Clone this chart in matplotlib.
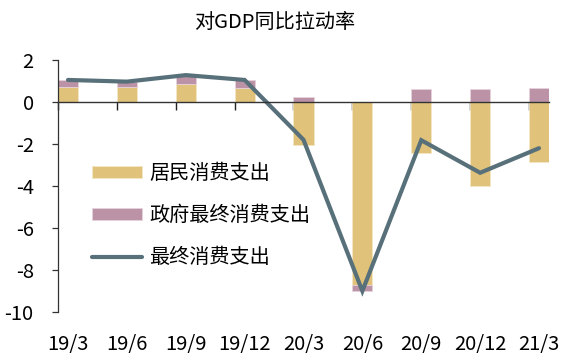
import matplotlib
matplotlib.use("Agg")
import matplotlib.pyplot as plt
import numpy as np

plt.rcParams['font.family'] = ['Noto Sans CJK SC', 'DejaVu Sans']
plt.rcParams['axes.unicode_minus'] = False

categories = ["19/3", "19/6", "19/9", "19/12", "20/3", "20/6", "20/9", "20/12", "21/3"]
household = [0.73, 0.73, 0.86, 0.65, -2.06, -8.70, -2.44, -4.00, -2.84]
government = [0.32, 0.24, 0.44, 0.40, 0.25, -0.30, 0.62, 0.62, 0.65]
total = [1.05, 0.97, 1.28, 1.05, -1.80, -9.00, -1.82, -3.37, -2.20]

title = "对GDP同比拉动率"
labels = ["居民消费支出", "政府最终消费支出", "最终消费支出"]

c_house = "#E0C27A"
c_gov = "#BC93A6"
c_line = "#587079"

fig = plt.figure(figsize=(5.66, 3.6), dpi=100)
ax = fig.add_axes([58/566, 48/360, 491/566, 252/360])

x = np.arange(len(categories))
w = 0.34
household = np.array(household)
government = np.array(government)
gov_bottom = np.where((government >= 0) == (household >= 0), household, 0)
b1 = ax.bar(x, household, width=w, color=c_house, edgecolor='#F3E6C6', linewidth=0.6,
            label=labels[0], zorder=2)
b2 = ax.bar(x, government, width=w, bottom=gov_bottom, color=c_gov, edgecolor='#E6D2DB',
            linewidth=0.6, label=labels[1], zorder=2)
ln, = ax.plot(x, total, color=c_line, lw=3.0, solid_capstyle='round',
              solid_joinstyle='miter', label=labels[2], zorder=3)

ax.set_xlim(-w/2, len(categories) - 1 + w/2)
ax.set_ylim(-10, 2)
ax.set_yticks(np.arange(-10, 3, 2))
ax.set_yticklabels([str(v) for v in range(-10, 3, 2)])

for s in ['top', 'right']:
    ax.spines[s].set_visible(False)
ax.spines['left'].set_color('#333333')
ax.spines['left'].set_linewidth(0.9)
ax.spines['bottom'].set_position(('data', 0))
ax.spines['bottom'].set_color('#333333')
ax.spines['bottom'].set_linewidth(1.0)
ax.spines['bottom'].set_zorder(4)

ax.tick_params(axis='y', direction='out', length=4.5, width=0.9, color='#333333',
               labelsize=14.5, pad=13)
ax.set_xticks(x - w/2)
ax.set_xticklabels([])
ax.tick_params(axis='x', direction='out', length=5.5, width=1.0, color='#222222')

sec = ax.secondary_xaxis(0)
sec.set_xticks(x)
sec.set_xticklabels(categories)
sec.tick_params(axis='x', length=0, labelsize=14.5, pad=16)
sec.spines['bottom'].set_visible(False)

fig.text(274.5/566, 1 - 22/360, title, ha='center', va='center', fontsize=14.5)

leg = fig.legend([b1, b2, ln], labels, loc='upper left',
                 bbox_to_anchor=(92/566, 1 - 163/360), frameon=False,
                 fontsize=14.5, handlelength=2.5, handleheight=0.6,
                 handletextpad=0.35, labelspacing=1.05, borderpad=0,
                 borderaxespad=0)

fig.savefig("out.png", dpi=100)
